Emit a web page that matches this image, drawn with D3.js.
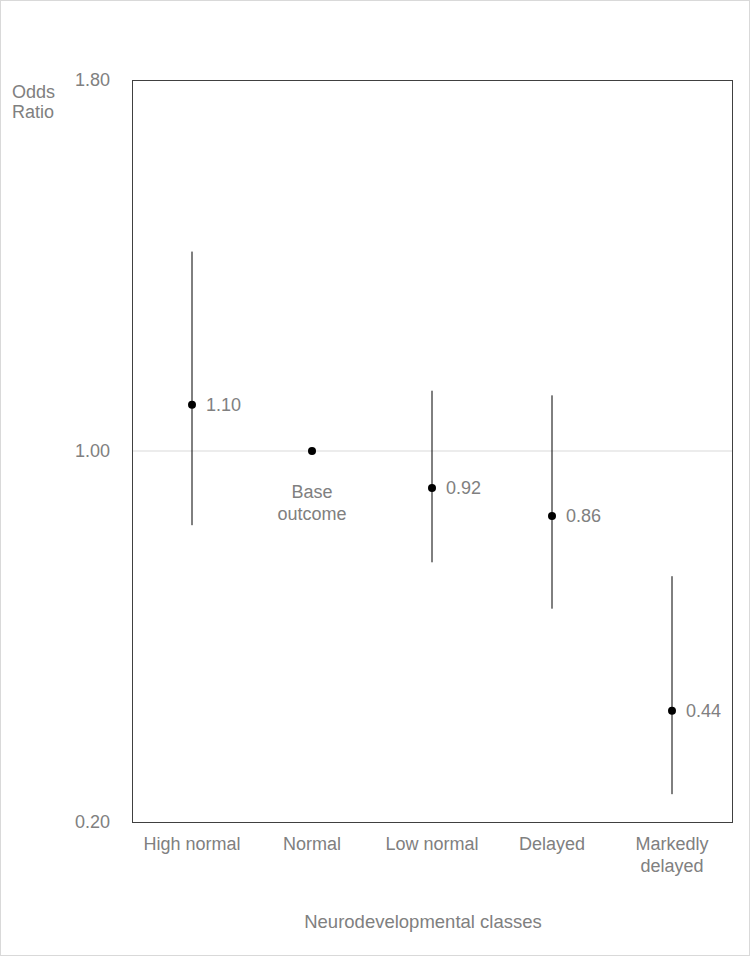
<!DOCTYPE html>
<html>
<head>
<meta charset="utf-8">
<script src="https://cdn.jsdelivr.net/npm/d3@7"></script>
<style>
  body { margin: 0; background: #fff; }
  svg { display: block; font-family: "Liberation Sans", Arial, sans-serif; }
</style>
</head>
<body>
<div id="chart"></div>
<script>
'use strict';

// categories and values
var categories = ["High normal", "Normal", "Low normal", "Delayed", "Markedly delayed"];
var oddsRatio = [1.10, 1.00, 0.92, 0.86, 0.44];
var ciLow = [0.84, null, 0.76, 0.66, 0.26];
var ciHigh = [1.43, null, 1.13, 1.12, 0.73];
var pointLabels = ["1.10", "Base outcome", "0.92", "0.86", "0.44"];
var yTicks = [0.20, 1.00, 1.80];

var width = 750, height = 956;
var margin = {top: 80, right: 18, bottom: 134, left: 132};
var fontSize = "18px";

var svg = d3.select("#chart").append("svg")
    .attr("width", width)
    .attr("height", height);

// light frame round the figure
svg.append("rect")
    .attr("x", 0.5).attr("y", 0.5)
    .attr("width", width - 1).attr("height", height - 1)
    .attr("fill", "none")
    .attr("stroke", "#d9d9d9");

var x = d3.scaleBand()
    .domain(categories)
    .range([margin.left, width - margin.right]);

var y = d3.scaleLinear()
    .domain([0.2, 1.8])
    .range([height - margin.bottom, margin.top]);

var grey = "#808080";

// gridline at 1.00
svg.append("line")
    .attr("x1", x.range()[0]).attr("x2", x.range()[1])
    .attr("y1", y(1)).attr("y2", y(1))
    .attr("stroke", "#d9d9d9");

// y tick labels
var yAxis = svg.append("g")
    .attr("transform", "translate(" + (margin.left - 22) + ",0)")
    .call(d3.axisLeft(y).tickValues(yTicks).tickFormat(d3.format(".2f")).tickSize(0));
yAxis.select(".domain").remove();
yAxis.selectAll("text")
    .attr("fill", grey)
    .style("font-size", fontSize)
    .attr("x", 0);

// y title
svg.append("text")
    .attr("x", 12).attr("y", 98)
    .attr("fill", grey).style("font-size", fontSize)
    .selectAll("tspan")
    .data(["Odds", "Ratio"])
    .enter().append("tspan")
    .attr("x", 12)
    .attr("dy", function(d, i) { return i == 0 ? 0 : 20; })
    .text(function(d) { return d; });

// category labels
var xLabels = svg.append("g");
categories.forEach(function(c) {
    var words = c == "Markedly delayed" ? ["Markedly", "delayed"] : [c];
    var t = xLabels.append("text")
        .attr("text-anchor", "middle")
        .attr("fill", grey)
        .style("font-size", fontSize)
        .attr("y", y(0.2) + 28);
    words.forEach(function(w, i) {
        t.append("tspan")
            .attr("x", x(c) + x.bandwidth() / 2)
            .attr("dy", i == 0 ? 0 : 22)
            .text(w);
    });
});

// x title
svg.append("text")
    .attr("x", (x.range()[0] + x.range()[1]) / 2 - 9)
    .attr("y", 928)
    .attr("text-anchor", "middle")
    .attr("fill", grey)
    .style("font-size", "18.5px")
    .text("Neurodevelopmental classes");

// error bars
var rows = categories.map(function(c, i) {
    return {cat: c, or: oddsRatio[i], lo: ciLow[i], hi: ciHigh[i], label: pointLabels[i]};
});

svg.selectAll(".ci")
    .data(rows.filter(function(d) { return d.lo != null; }))
    .enter().append("line")
    .attr("class", "ci")
    .attr("x1", function(d) { return x(d.cat) + x.bandwidth() / 2; })
    .attr("x2", function(d) { return x(d.cat) + x.bandwidth() / 2; })
    .attr("y1", function(d) { return y(d.hi); })
    .attr("y2", function(d) { return y(d.lo); })
    .attr("stroke", "#000")
    .attr("stroke-width", 1);

// points
svg.selectAll(".pt")
    .data(rows)
    .enter().append("circle")
    .attr("class", "pt")
    .attr("cx", function(d) { return x(d.cat) + x.bandwidth() / 2; })
    .attr("cy", function(d) { return y(d.or); })
    .attr("r", 4)
    .attr("fill", "#000");

// point labels
rows.forEach(function(d) {
    var cx = x(d.cat) + x.bandwidth() / 2;
    if (d.label == "Base outcome") {
        var t = svg.append("text")
            .attr("text-anchor", "middle")
            .attr("fill", grey)
            .style("font-size", fontSize)
            .attr("y", y(d.or) + 47);
        ["Base", "outcome"].forEach(function(w, i) {
            t.append("tspan").attr("x", cx).attr("dy", i == 0 ? 0 : 22).text(w);
        });
    } else {
        svg.append("text")
            .attr("x", cx + 14)
            .attr("y", y(d.or))
            .attr("dy", "0.35em")
            .attr("fill", grey)
            .style("font-size", fontSize)
            .text(d.label);
    }
});

// plot box
svg.append("rect")
    .attr("x", x.range()[0] + 0.5).attr("y", y(1.8) + 0.5)
    .attr("width", x.range()[1] - x.range()[0])
    .attr("height", y(0.2) - y(1.8))
    .attr("fill", "none")
    .attr("stroke", "#404040")
    .attr("stroke-width", 1);
</script>
</body>
</html>
